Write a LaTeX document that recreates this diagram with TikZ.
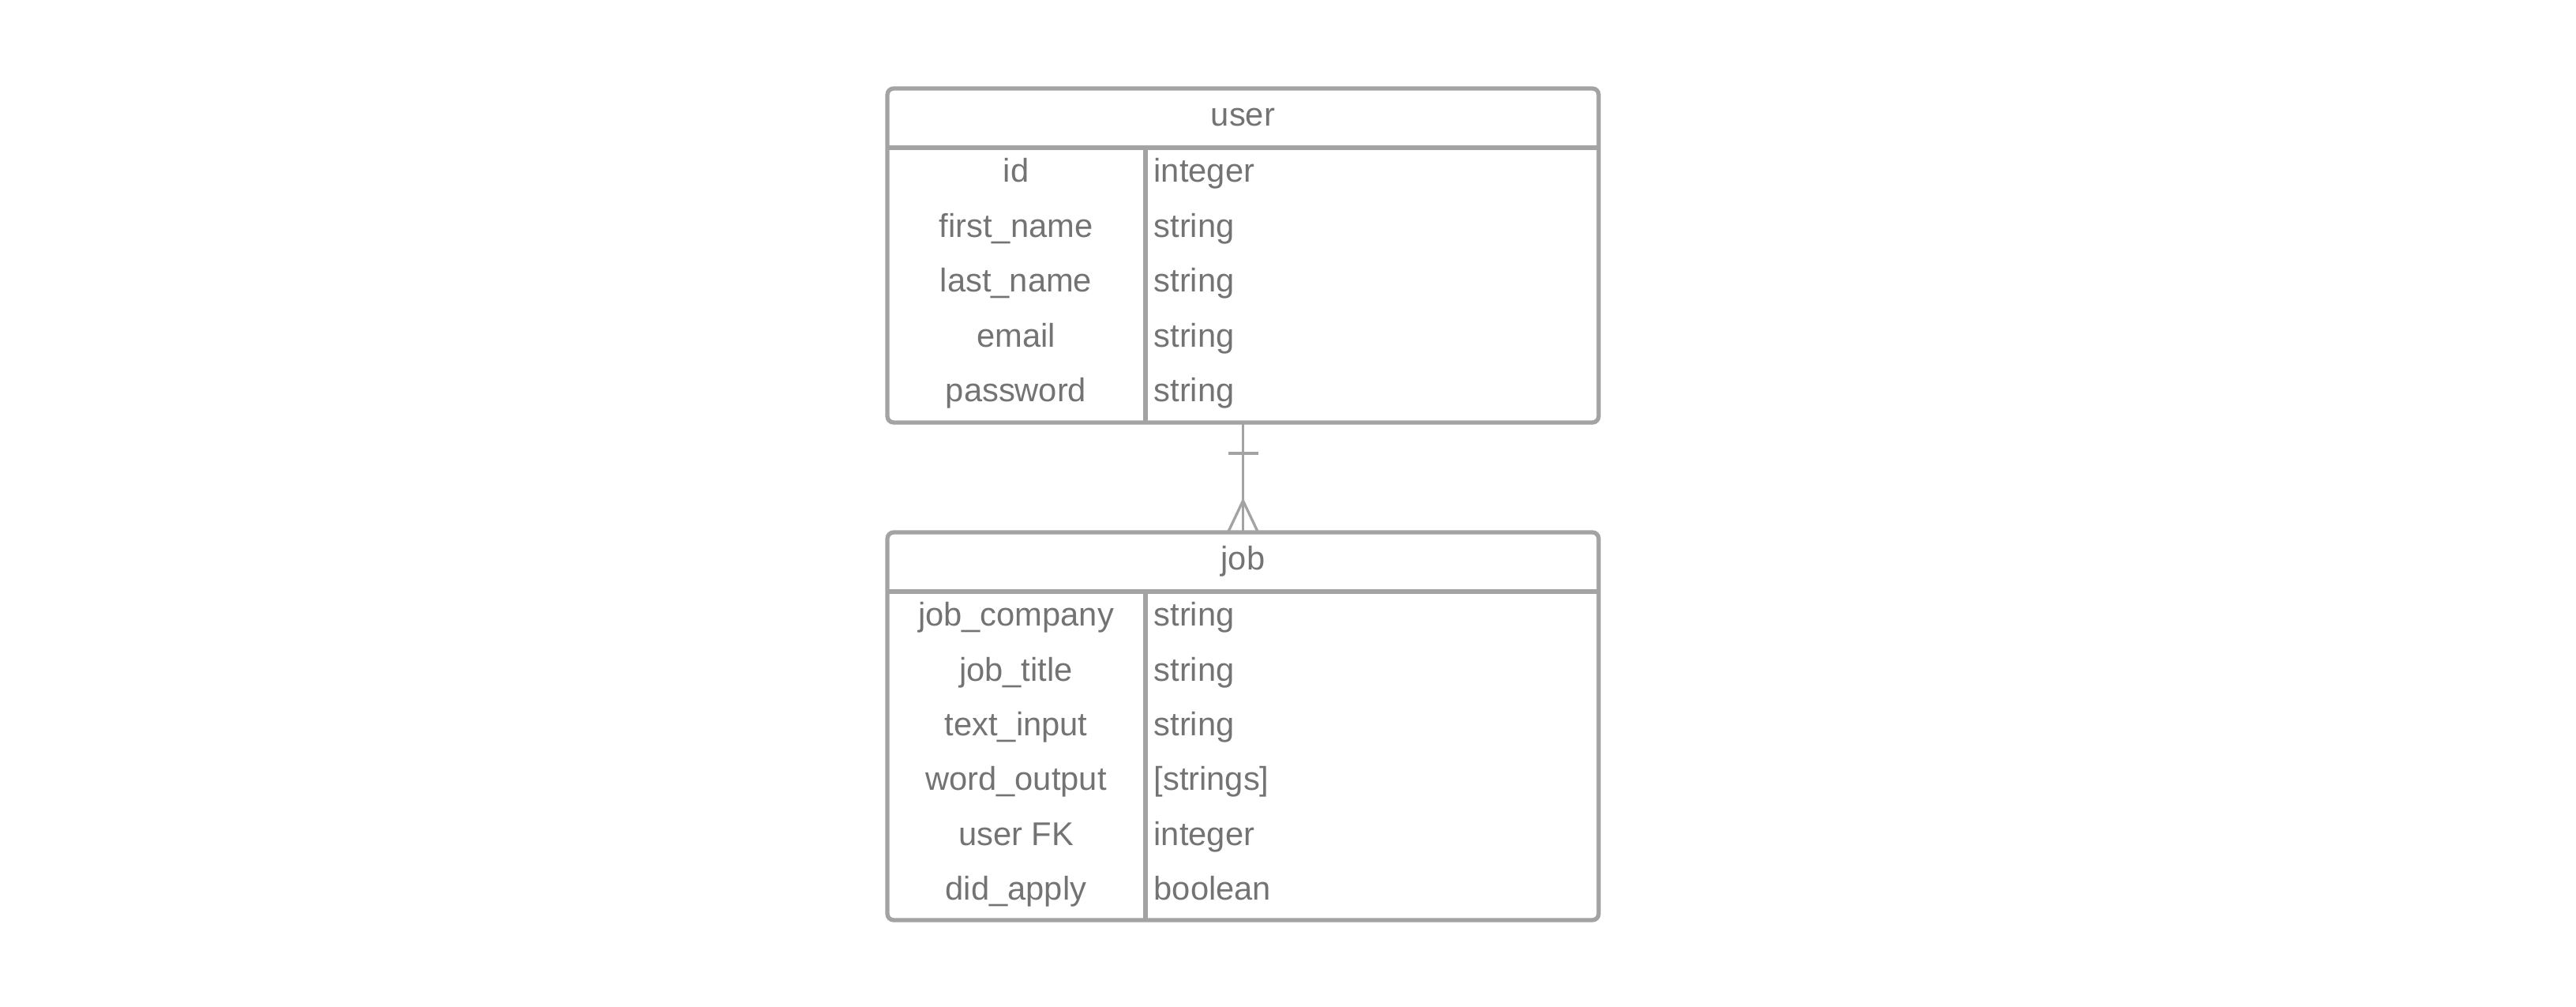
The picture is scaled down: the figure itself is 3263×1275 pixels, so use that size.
\documentclass[tikz,border=0pt]{standalone}
\usepackage{fontspec}
\setmainfont{Liberation Sans}
\usetikzlibrary{calc}
\definecolor{erdline}{HTML}{A3A3A3}
\definecolor{erdtext}{HTML}{737373}
\tikzset{
  tbl/.style={draw=erdline, line width=1.6pt, rounded corners=2.4pt, minimum width=270.3pt, inner sep=0pt, outer sep=0pt},
  sepline/.style={draw=erdline, line width=1.6pt},
  rel/.style={draw=erdline, line width=1pt},
  keytxt/.style={anchor=base, inner sep=0pt, text=erdtext, font=\fontsize{12.5}{15}\selectfont},
  typetxt/.style={anchor=base west, inner sep=0pt, text=erdtext, font=\fontsize{12.5}{15}\selectfont}
}
\begin{document}
\begin{tikzpicture}[x=0.3pt, y=-0.3pt]
        \useasboundingbox (0,0) rectangle (3263,1275);
          % tables
          \node[tbl, minimum height=126.9pt] (user) at (1574.5,323.5) {};
          \node[tbl, minimum height=147.3pt] (job) at (1574.5,919.5) {};
          % user table
          \draw[sepline] ($(user.north west)+(0,75)$) -- ($(user.north east)+(0,75)$);
          \draw[sepline] ($(user.north west)+(327,75)$) -- ($(user.south west)+(327,0)$);
          \node[keytxt] (user-title) at (1574.5,160) {user};
          \node[keytxt] (u-id) at (1287,231) {id};
          \node[keytxt] (u-first) at (1287,300.5) {first\_name};
          \node[keytxt] (u-last) at (1287,370) {last\_name};
          \node[keytxt] (u-email) at (1287,439.5) {email};
          \node[keytxt] (u-pass) at (1287,509) {password};
          \node[typetxt] (u-id-t) at (1461,231) {integer};
          \node[typetxt] (u-first-t) at (1461,300.5) {string};
          \node[typetxt] (u-last-t) at (1461,370) {string};
          \node[typetxt] (u-email-t) at (1461,439.5) {string};
          \node[typetxt] (u-pass-t) at (1461,509) {string};
          % job table
          \draw[sepline] ($(job.north west)+(0,75)$) -- ($(job.north east)+(0,75)$);
          \draw[sepline] ($(job.north west)+(327,75)$) -- ($(job.south west)+(327,0)$);
          \node[keytxt] (job-title) at (1574.5,722) {job};
          \node[keytxt] (j-comp) at (1287,793) {job\_company};
          \node[keytxt] (j-title) at (1287,862.3) {job\_title};
          \node[keytxt] (j-text) at (1287,931.6) {text\_input};
          \node[keytxt] (j-word) at (1287,1001) {word\_output};
          \node[keytxt] (j-user) at (1287,1070.3) {user FK};
          \node[keytxt] (j-apply) at (1287,1139.6) {did\_apply};
          \node[typetxt] (j-comp-t) at (1461,793) {string};
          \node[typetxt] (j-title-t) at (1461,862.3) {string};
          \node[typetxt] (j-text-t) at (1461,931.6) {string};
          \node[typetxt] (j-word-t) at (1461,1001) {[strings]};
          \node[typetxt] (j-user-t) at (1461,1070.3) {integer};
          \node[typetxt] (j-apply-t) at (1461,1139.6) {boolean};
          % relation: one user, many jobs
          \coordinate (one) at ($(user.south)+(0,39)$);
          \coordinate (many) at ($(job.north)+(0,-40)$);
          \draw[rel] (user.south) -- (job.north);
          \draw[rel] ($(one)+(-19,0)$) -- ($(one)+(19,0)$);
          \draw[rel] ($(job.north)+(-19,0)$) -- (many) -- ($(job.north)+(19,0)$);
     \end{tikzpicture}
\end{document}
